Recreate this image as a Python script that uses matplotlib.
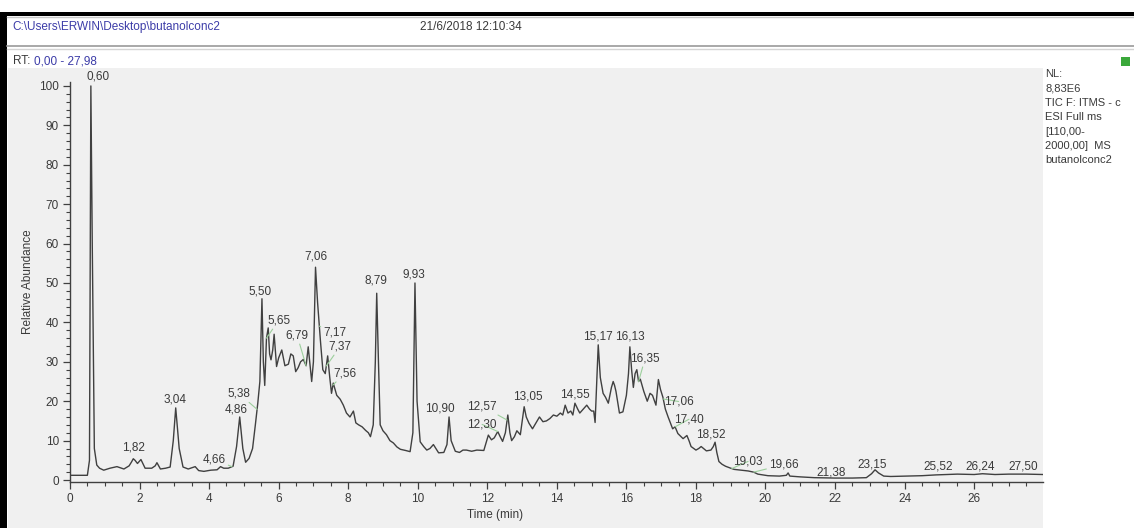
import numpy as np
import matplotlib
matplotlib.use("Agg")
import matplotlib.pyplot as plt
from matplotlib.patches import Rectangle
from matplotlib.ticker import MultipleLocator

plt.rcParams['font.family'] = ['Liberation Sans', 'DejaVu Sans']

W, H = 1134, 528

# chromatogram trace (retention time in min, relative abundance in %)
rt_min = [0.00, 0.50, 0.56, 0.60, 0.64, 0.70, 0.77, 0.85, 0.97, 1.15,
          1.35, 1.55, 1.70, 1.77, 1.82, 1.87, 1.94, 2.04, 2.16, 2.35,
          2.45, 2.50, 2.60, 2.75, 2.88, 2.97, 3.04, 3.10, 3.14, 3.25,
          3.40, 3.60, 3.70, 3.85, 4.05, 4.23, 4.33, 4.42, 4.55, 4.69,
          4.79, 4.88, 4.97, 5.05, 5.15, 5.25, 5.33, 5.40, 5.46, 5.52,
          5.56, 5.60, 5.65, 5.70, 5.74, 5.78, 5.83, 5.87, 5.94, 6.00,
          6.09, 6.18, 6.28, 6.35, 6.42, 6.49, 6.56, 6.63, 6.71, 6.79,
          6.85, 6.95, 7.00, 7.06, 7.12, 7.20, 7.27, 7.34, 7.41, 7.47,
          7.52, 7.57, 7.67, 7.77, 7.86, 7.95, 8.05, 8.15, 8.22, 8.30,
          8.40, 8.50, 8.58, 8.64, 8.72, 8.78, 8.82, 8.87, 8.92, 9.00,
          9.10, 9.20, 9.30, 9.40, 9.50, 9.65, 9.78, 9.86, 9.92, 9.98,
          10.07, 10.17, 10.26, 10.35, 10.45, 10.60, 10.75, 10.84, 10.90, 10.96,
          11.08, 11.20, 11.30, 11.40, 11.55, 11.70, 11.90, 12.03, 12.12, 12.20,
          12.30, 12.37, 12.44, 12.52, 12.59, 12.65, 12.70, 12.78, 12.85, 12.95,
          13.06, 13.12, 13.20, 13.30, 13.40, 13.50, 13.60, 13.70, 13.80, 13.90,
          14.00, 14.10, 14.17, 14.24, 14.32, 14.40, 14.46, 14.52, 14.60, 14.66,
          14.76, 14.86, 14.94, 15.00, 15.06, 15.10, 15.19, 15.25, 15.33, 15.40,
          15.48, 15.57, 15.62, 15.66, 15.70, 15.80, 15.90, 16.00, 16.06, 16.10,
          16.15, 16.20, 16.25, 16.30, 16.35, 16.40, 16.50, 16.60, 16.68, 16.75,
          16.85, 16.92, 16.98, 17.05, 17.12, 17.20, 17.33, 17.40, 17.48, 17.63,
          17.74, 17.80, 17.86, 18.00, 18.08, 18.15, 18.30, 18.43, 18.50, 18.55,
          18.60, 18.66, 18.75, 18.85, 19.00, 19.10, 19.30, 19.50, 19.66, 19.78,
          20.07, 20.40, 20.60, 20.65, 20.70, 21.00, 21.40, 22.00, 22.50, 22.90,
          23.05, 23.15, 23.25, 23.40, 23.60, 24.00, 24.50, 24.90, 25.52, 26.00,
          26.24, 26.60, 27.00, 27.50, 27.98]

abundance = [1.2, 1.2, 5.0, 100, 60, 8.0, 3.8, 3.0, 2.5, 3.0,
             3.4, 2.8, 3.6, 4.6, 5.4, 5.0, 4.2, 5.2, 3.0, 3.0,
             3.6, 4.4, 2.8, 3.0, 3.3, 10.0, 18.3, 12.0, 8.0, 3.3,
             2.8, 3.4, 2.4, 2.2, 2.5, 2.6, 3.4, 3.0, 3.0, 3.5,
             8.5, 16.0, 8.0, 4.5, 5.5, 8.0, 14.0, 19.5, 25.0, 46.0,
             30.0, 24.0, 36.0, 38.6, 32.0, 30.5, 33.0, 37.0, 28.8, 31.0,
             33.0, 29.0, 29.4, 32.0, 31.5, 27.5, 28.5, 30.0, 30.6, 29.0,
             33.8, 25.0, 30.0, 54.0, 45.0, 35.5, 28.0, 27.0, 31.5, 26.0,
             22.0, 24.6, 21.5, 20.5, 19.0, 17.0, 16.0, 17.5, 14.5, 14.0,
             13.5, 12.6, 12.0, 11.0, 14.0, 30.0, 47.4, 30.0, 14.0, 12.5,
             11.5, 10.0, 9.4, 8.4, 7.8, 7.5, 7.2, 12.0, 50.0, 20.0,
             9.7, 8.5, 7.6, 8.0, 9.0, 6.9, 7.0, 9.0, 16.0, 10.0,
             7.3, 7.0, 7.6, 7.6, 7.3, 7.6, 7.5, 11.4, 10.2, 10.7,
             12.3, 11.0, 9.8, 12.0, 16.5, 12.0, 10.0, 11.0, 12.5, 11.5,
             18.6, 16.0, 14.4, 13.0, 14.5, 16.0, 14.8, 15.0, 15.6, 16.5,
             16.2, 17.0, 16.5, 19.0, 17.0, 17.5, 16.5, 19.5, 18.0, 17.0,
             18.0, 19.0, 18.0, 17.5, 17.5, 14.6, 34.3, 26.0, 22.0, 21.0,
             19.5, 23.5, 25.0, 24.0, 22.5, 17.0, 17.3, 21.5, 27.0, 33.8,
             28.0, 23.5, 27.0, 28.0, 25.0, 25.6, 22.5, 20.0, 22.0, 21.5,
             19.0, 25.5, 23.0, 21.0, 18.0, 16.0, 13.0, 13.5, 11.8, 10.5,
             11.3, 10.0, 8.5, 7.6, 8.0, 8.5, 7.4, 7.6, 8.5, 9.6,
             7.0, 4.7, 4.0, 3.5, 3.0, 2.7, 2.5, 2.3, 2.0, 1.5,
             1.1, 1.0, 1.2, 1.8, 1.0, 0.8, 0.6, 0.5, 0.5, 0.6,
             1.6, 2.6, 1.8, 1.0, 0.9, 1.0, 1.1, 1.3, 1.5, 1.4,
             1.6, 1.4, 1.5, 1.5, 1.4]

# peak annotations: text, peak time, label position (time, abundance), leader line?
peak_text = ["0,60", "1,82", "3,04", "4,66", "5,38", "4,86", "5,50", "5,65",
             "6,79", "7,06", "7,17", "7,37", "7,56", "8,79", "9,93", "10,90",
             "12,57", "12,30", "13,05", "14,55", "15,17", "16,13", "16,35",
             "17,06", "17,40", "18,52", "19,03", "19,66", "21,38", "23,15",
             "25,52", "26,24", "27,50"]
peak_rt = [0.60, 1.82, 3.04, 4.66, 5.38, 4.86, 5.50, 5.65,
           6.79, 7.06, 7.17, 7.37, 7.56, 8.79, 9.93, 10.90,
           12.57, 12.30, 13.05, 14.55, 15.17, 16.13, 16.35,
           17.06, 17.40, 18.52, 19.03, 19.66, 21.38, 23.15,
           25.52, 26.24, 27.50]
label_x = [0.80, 1.82, 3.02, 4.14, 4.86, 4.78, 5.46, 6.00,
           6.53, 7.07, 7.62, 7.77, 7.90, 8.80, 9.90, 10.64,
           11.85, 11.85, 13.17, 14.52, 15.19, 16.10, 16.54,
           17.50, 17.80, 18.43, 19.50, 20.53, 21.90, 23.07,
           24.96, 26.17, 27.40]
label_y = [100.8, 6.8, 18.9, 3.7, 20.4, 16.4, 46.4, 39.0,
           35.2, 55.3, 35.9, 32.4, 25.6, 49.2, 50.7, 16.7,
           17.2, 12.6, 19.7, 20.2, 34.9, 34.9, 29.4,
           18.4, 13.9, 10.1, 3.2, 2.4, 0.4, 2.4,
           1.9, 1.9, 1.9]
leader = [False, False, False, True, True, False, False, True,
          True, False, True, True, True, False, False, False,
          True, True, False, False, False, False, True,
          True, True, False, True, True, False, False,
          False, False, False]

header_path = "C:\\Users\\ERWIN\\Desktop\\butanolconc2"
header_date = "21/6/2018 12:10:34"
nl_info = "NL:\n8,83E6\nTIC F: ITMS - c\nESI Full ms\n[110,00-\n2000,00]  MS\nbutanolconc2"

panel = '#f0f0f0'
ink = '#3a3a3a'
blue = '#3c3ca8'


def fx(px):
    return px / W


def fy(py):
    return 1 - py / H


fig = plt.figure(figsize=(W / 100, H / 100), dpi=100)
fig.patch.set_facecolor('white')

# window chrome
fig.add_artist(Rectangle((fx(8), 0), fx(1043) - fx(8), fy(68), transform=fig.transFigure,
                         facecolor=panel, edgecolor='none', zorder=0))
fig.add_artist(Rectangle((0, 0), fx(7), fy(12), transform=fig.transFigure,
                         facecolor='black', edgecolor='none'))
fig.add_artist(Rectangle((0, fy(16)), 1, fy(12) - fy(16), transform=fig.transFigure,
                         facecolor='black', edgecolor='none'))
fig.add_artist(plt.Line2D([fx(7), 1], [fy(17), fy(17)], transform=fig.transFigure,
                          color='#c8c8c8', lw=1))
fig.add_artist(plt.Line2D([fx(7), 1], [fy(46), fy(46)], transform=fig.transFigure,
                          color='#9a9a9a', lw=1.2))
fig.add_artist(plt.Line2D([fx(7), 1], [fy(49), fy(49)], transform=fig.transFigure,
                          color='#d4d4d4', lw=1))
fig.add_artist(Rectangle((fx(1121), fy(66)), fx(9), fy(57) - fy(66), transform=fig.transFigure,
                         facecolor='#3aa83a', edgecolor='none'))

fig.text(fx(12), fy(27), header_path, color=blue, fontsize=8.5, va='center', ha='left')
fig.text(fx(420), fy(27), header_date, color=ink, fontsize=8.5, va='center', ha='left')
fig.text(fx(13), fy(61), "RT:", color=ink, fontsize=8.5, va='center', ha='left')
fig.text(fx(34), fy(61), "0,00 - 27,98", color=blue, fontsize=8.5, va='center', ha='left')
fig.text(fx(1045), fy(69), nl_info, color=ink, fontsize=8, va='top', ha='left',
         linespacing=1.55)

ax = fig.add_axes([fx(70), fy(482), fx(1043) - fx(70), fy(82) - fy(482)])
ax.set_facecolor(panel)
ax.plot(rt_min, abundance, color='#404040', lw=1.0)
ax.set_xlim(0, 27.98)
ax.set_ylim(-0.5, 101)

for txt, prt, lx, ly, lead in zip(peak_text, peak_rt, label_x, label_y, leader):
    if lead:
        py = np.interp(prt, rt_min, abundance)
        ax.annotate(txt, xy=(prt, py), xytext=(lx, ly), textcoords='data',
                    ha='center', va='bottom', fontsize=8.5, color=ink,
                    arrowprops=dict(arrowstyle='-', color='#9ccf9c', lw=0.8,
                                    shrinkA=0, shrinkB=0))
    else:
        ax.text(lx, ly, txt, ha='center', va='bottom', fontsize=8.5, color=ink,
                clip_on=False)

for side in ['top', 'right']:
    ax.spines[side].set_visible(False)
for side in ['left', 'bottom']:
    ax.spines[side].set_color('#404040')
    ax.spines[side].set_linewidth(1.0)

ax.set_xticks(np.arange(0, 27, 2))
ax.xaxis.set_minor_locator(MultipleLocator(0.5))
ax.set_yticks(np.arange(0, 101, 10))
ax.yaxis.set_minor_locator(MultipleLocator(2))
ax.tick_params(which='major', length=5, width=0.9, color='#404040',
               labelsize=8.5, labelcolor=ink, pad=3)
ax.tick_params(which='minor', length=3, width=0.8, color='#404040')

fig.text(fx(28), fy(282), "Relative Abundance", rotation=90, fontsize=8.5,
         color=ink, ha='center', va='center')
fig.text(fx(495), fy(515), "Time (min)", fontsize=8.5, color=ink,
         ha='center', va='center')

fig.savefig("out.png", dpi=100)
